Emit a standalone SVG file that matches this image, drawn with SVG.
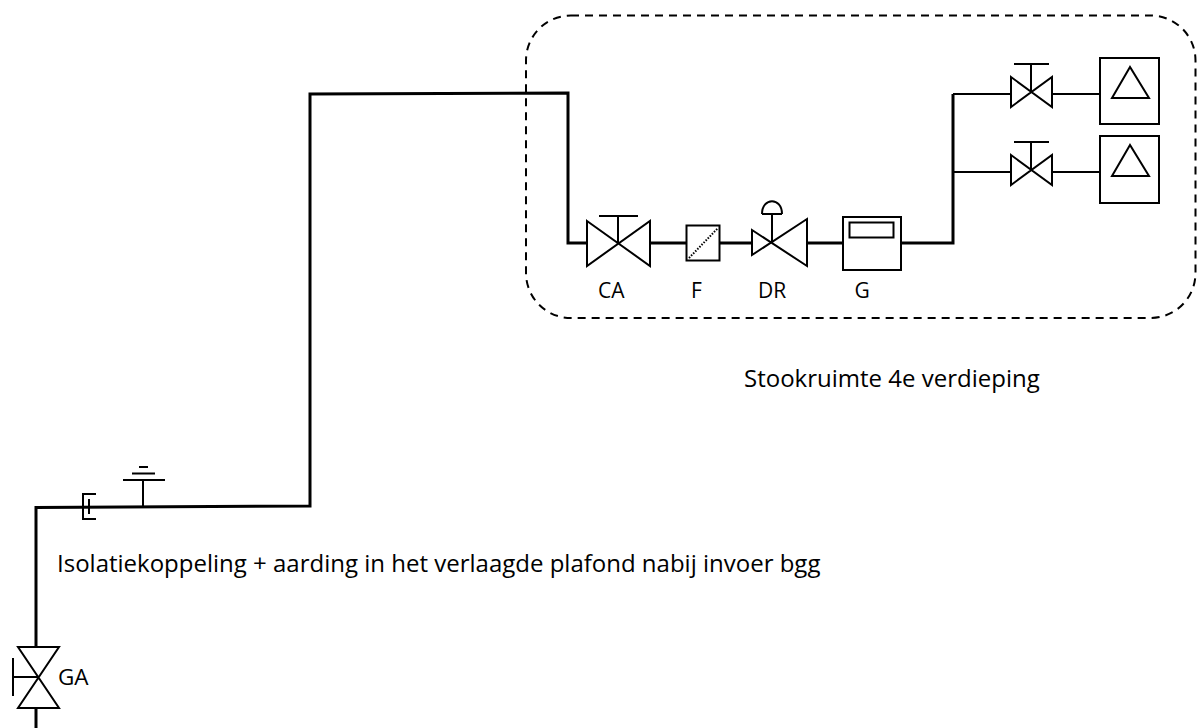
<svg xmlns="http://www.w3.org/2000/svg" width="1198" height="728" viewBox="0 0 1198 728">
<style>
text{font-family:"Open Sans","Noto Sans",sans-serif;font-size:24px;fill:#000}
text.l{font-size:21px}
text.g{font-size:22.500px}
.p{fill:none;stroke:#000;stroke-width:3}
.s{fill:none;stroke:#000;stroke-width:2}
</style>
<rect width="1198" height="728" fill="#fff"/>
<g id="connectors">
<path class="p" d="M36 646V507.500L310 506V94L568 93V243H586"/>
<path class="p" d="M36 709V728"/>
<path class="p" d="M651 243H686M720 243H752M808 243H843M901 243H953V94"/>
<path class="s" d="M953 94H1011M953 172H1011M1053 94H1100M1053 172H1100"/>
</g>
<g id="boundary"><rect x="526" y="15.500" width="669.500" height="302.500" rx="45" ry="45" fill="none" stroke="#000" stroke-width="2" stroke-dasharray="8 6"/></g>
<g id="isolation"><path class="s" d="M96 494H83V519H96M89 499V514"/></g>
<g id="earth"><path class="s" d="M143 506V480M123 480H165M132 473.500H155M139 467H148"/></g>
<g id="valve-GA"><path class="s" d="M18 647H59L18 708H59ZM13 677H38M13 658V696"/><text class="g" x="58" y="685">GA</text></g>
<g id="valve-CA"><path class="s" d="M587 221L650 266V221L587 266ZM599 216H638M618 216V243"/><text class="l" x="598" y="298">CA</text></g>
<g id="filter-F"><rect class="s" x="686.500" y="225.500" width="33" height="35"/><path d="M689 258L718 228" fill="none" stroke="#000" stroke-width="2" stroke-dasharray="1.500 1.500"/><text class="l" x="691" y="298">F</text></g>
<g id="regulator-DR"><path class="s" d="M752 230L807 266V219L752 255ZM772 243V214M762 214H782M762 214C762 197 782 197 782 214"/><text class="l" x="758" y="298">DR</text></g>
<g id="meter-G"><rect class="s" x="843" y="217" width="58" height="53"/><rect class="s" x="849.500" y="222.500" width="44" height="15"/><text class="l" x="854.500" y="298">G</text></g>
<g id="valve-1"><path class="s" d="M1011 77L1052 107V77L1011 107ZM1014 64H1049M1031 64V92"/></g>
<g id="valve-2"><path class="s" d="M1011 155L1052 185V155L1011 185ZM1014 142H1049M1031 142V170"/></g>
<g id="boiler-1"><rect class="s" x="1100" y="58" width="59" height="66"/><path class="s" d="M1130 67L1112 98H1149Z"/></g>
<g id="boiler-2"><rect class="s" x="1100" y="136" width="59" height="67"/><path class="s" d="M1130 145L1112 176H1149Z"/></g>
<text x="744" y="387">Stookruimte 4e verdieping</text>
<text x="57" y="572">Isolatiekoppeling + aarding in het verlaagde plafond nabij invoer bgg</text>
</svg>
